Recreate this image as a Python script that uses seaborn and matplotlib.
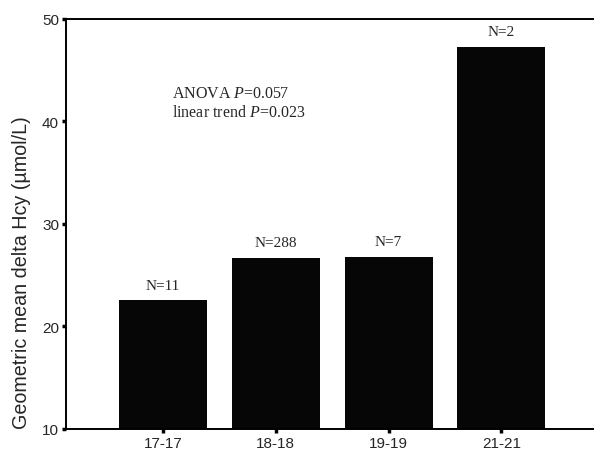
import matplotlib
matplotlib.use("Agg")
import matplotlib.pyplot as plt
import seaborn as sns
import pandas as pd

groups = ["17-17", "18-18", "19-19", "21-21"]
values = [22.6, 26.7, 26.8, 47.3]
counts = ["N=11", "N=288", "N=7", "N=2"]
yticks = [10, 20, 30, 40, 50]
anova_text = "ANOVA $\\mathit{P}$=0.057"
trend_text = "linear trend $\\mathit{P}$=0.023"
ylabel = "Geometric mean delta Hcy (\u00b5mol/L)"

sns.set_style("white")
plt.rcParams["font.family"] = ["Liberation Sans", "DejaVu Sans"]
plt.rcParams["mathtext.fontset"] = "custom"
plt.rcParams["mathtext.rm"] = "Liberation Serif"
plt.rcParams["mathtext.it"] = "Liberation Serif:italic"

df = pd.DataFrame({"group": groups, "value": values})

fig = plt.figure(figsize=(5.94, 4.52), dpi=100)
ax = fig.add_axes([0.111, 0.0487, 0.889, 0.9071])

sns.barplot(data=df, x="group", y="value", color="#060606", width=0.78,
            saturation=1, ax=ax, edgecolor="#060606", linewidth=0)

ax.set_ylim(10, 50)
ax.set_xlim(-0.86, 3.82)
ax.set_yticks(yticks)
ax.set_xlabel("")
ax.set_ylabel(ylabel, fontsize=14.2)
ax.yaxis.set_label_coords(-0.066, 0.383)

for s in ["left", "bottom", "top"]:
    ax.spines[s].set_visible(True)
    ax.spines[s].set_color("black")
    ax.spines[s].set_linewidth(1.4)
ax.spines["right"].set_visible(False)

ax.tick_params(axis="both", direction="out", length=3, width=2.5,
               color="black", labelsize=11, pad=2, left=True, bottom=True)

for i, (v, n) in enumerate(zip(values, counts)):
    ax.annotate(n, (i, v), xytext=(0, 6), textcoords="offset points",
                ha="center", va="bottom", fontsize=11,
                family="Liberation Serif")

ax.text(0.2, 0.82, anova_text, transform=ax.transAxes, fontsize=11.5,
        family="Liberation Serif", va="center", ha="left")
ax.text(0.2, 0.772, trend_text, transform=ax.transAxes, fontsize=11.5,
        family="Liberation Serif", va="center", ha="left")

fig.savefig("out.png", dpi=100)
